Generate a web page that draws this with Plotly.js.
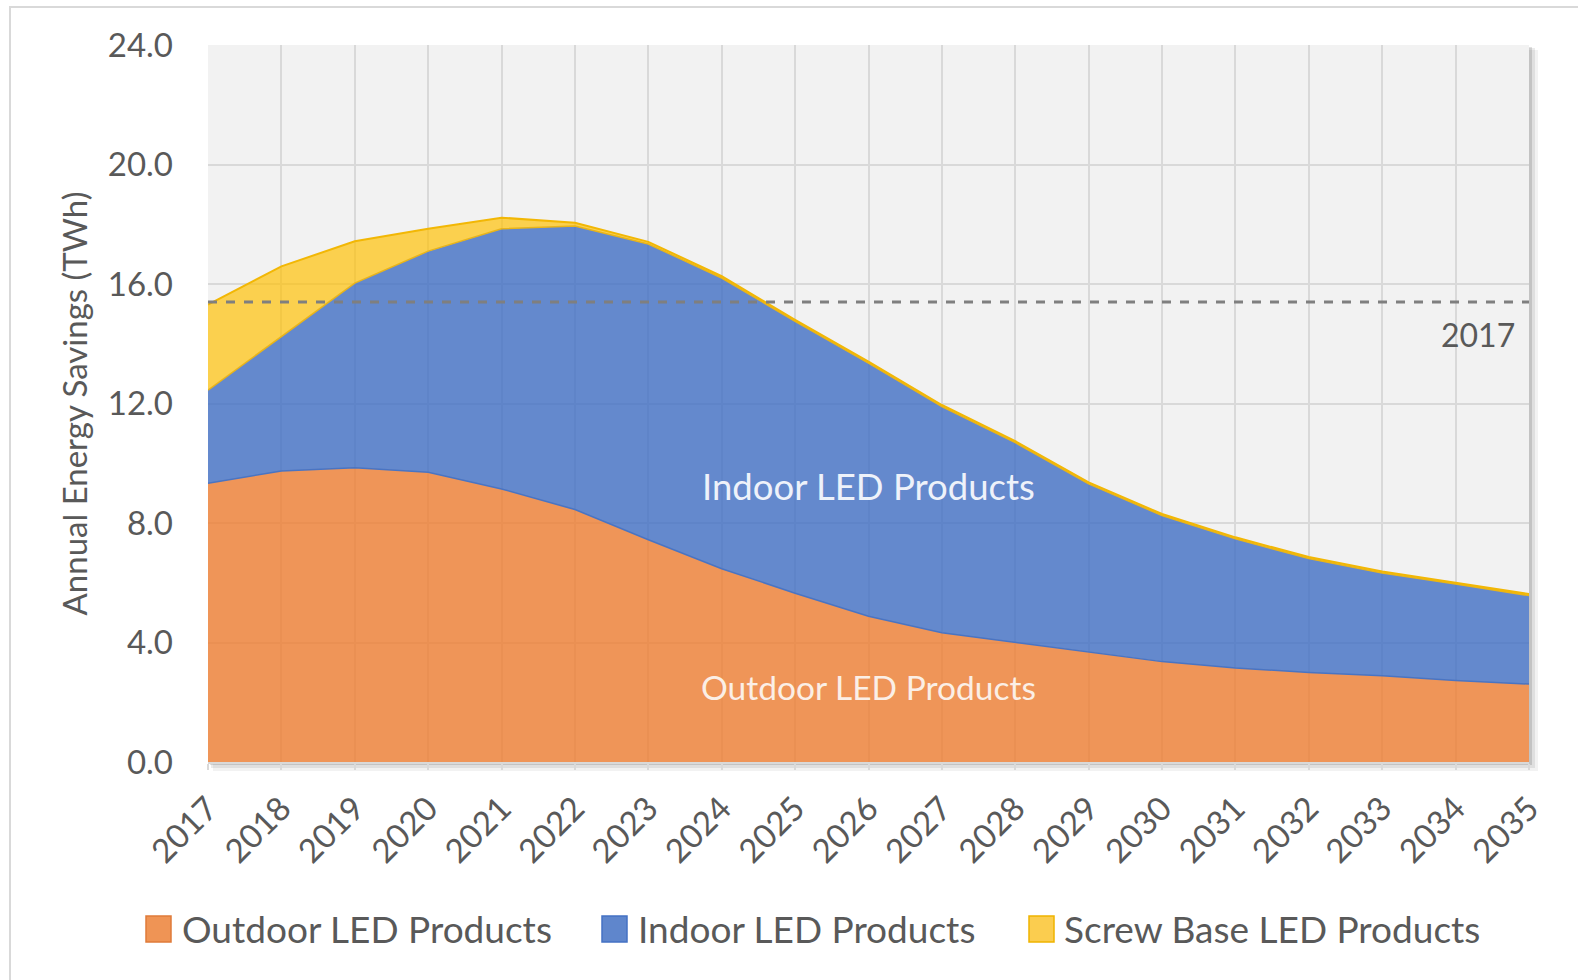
<!DOCTYPE html>
<html>
<head>
<meta charset="utf-8">
<script src="https://cdn.plot.ly/plotly-3.0.1.min.js"></script>
<style>
html,body{margin:0;padding:0;background:#fff;}
#chart{width:1578px;height:980px;}
</style>
</head>
<body>
<div id="chart"></div>
<script>
// ---- data (TWh) ----
var years = [2017,2018,2019,2020,2021,2022,2023,2024,2025,2026,2027,2028,2029,2030,2031,2032,2033,2034,2035];
var outdoor = [9.33,9.74,9.85,9.70,9.14,8.45,7.44,6.47,5.65,4.88,4.33,4.00,3.67,3.36,3.15,3.00,2.89,2.73,2.61];
var indoor  = [3.12,4.50,6.18,7.40,8.71,9.49,9.90,9.73,9.10,8.47,7.57,6.69,5.64,4.89,4.32,3.81,3.44,3.23,2.96];
var screwBase = [2.86,2.35,1.40,0.75,0.37,0.11,0.07,0.06,0.05,0.05,0.05,0.05,0.05,0.05,0.05,0.05,0.05,0.05,0.05];
var seriesNames = ['Outdoor LED Products','Indoor LED Products','Screw Base LED Products'];
var baseline2017 = 15.4;
var baselineLabel = '2017';
var yTicks = [0,4,8,12,16,20,24];

var FONT = 'Lato, "Open Sans", sans-serif';
var GREY = '#595959';

var traces = [
  {x: years, y: outdoor, name: seriesNames[0], type: 'scatter', mode: 'lines',
   stackgroup: 'one', fillcolor: 'rgba(237,125,49,0.80)',
   line: {color: '#4a74c2', width: 1.5}, showlegend: false},
  {x: years, y: indoor, name: seriesNames[1], type: 'scatter', mode: 'lines',
   stackgroup: 'one', fillcolor: 'rgba(68,114,196,0.82)',
   line: {color: '#e9b419', width: 1.5}, showlegend: false},
  {x: years, y: screwBase, name: seriesNames[2], type: 'scatter', mode: 'lines',
   stackgroup: 'one', fillcolor: 'rgba(255,192,0,0.68)',
   line: {color: '#f2b705', width: 2}, showlegend: false}
];

// pixel helpers for paper coordinates
var L = 208, R = 1529, T = 45, B = 762;
var W = R - L, H = B - T;
function px(x){ return (x - L) / W; }
function py(y){ return (B - y) / H; }

var shapes = [
  // outer light frame
  {type:'rect', xref:'paper', yref:'paper', x0:px(10), x1:px(1640), y0:py(1040), y1:py(7),
   line:{color:'#d9d9d9', width:2}, fillcolor:'rgba(0,0,0,0)', layer:'below'},
  // soft shadow of plot area
  {type:'rect', xref:'paper', yref:'paper', x0:px(L+5), x1:px(R+9), y0:py(B+9), y1:py(T+5),
   line:{width:0}, fillcolor:'rgba(0,0,0,0.05)', layer:'below'},
  {type:'rect', xref:'paper', yref:'paper', x0:px(L+3), x1:px(R+6), y0:py(B+6), y1:py(T+3),
   line:{width:0}, fillcolor:'rgba(0,0,0,0.08)', layer:'below'},
  {type:'rect', xref:'paper', yref:'paper', x0:px(L+2), x1:px(R+3), y0:py(B+3), y1:py(T+2),
   line:{width:0}, fillcolor:'rgba(0,0,0,0.12)', layer:'below'},
  // plot background
  {type:'rect', xref:'paper', yref:'paper', x0:0, x1:1, y0:0, y1:1,
   line:{width:0}, fillcolor:'#f2f2f2', layer:'below'},
  // 2017 reference dashed line
  {type:'line', xref:'paper', yref:'y', x0:0, x1:1, y0:baseline2017, y1:baseline2017,
   line:{color:'#7f7f7f', width:3, dash:'dash'}, layer:'above'}
];

// manual legend squares
var legendColors = [['#ef9455','#e07b3a'],['#5f86cc','#4472c4'],['#fbcd4f','#f0b400']];
var legendX = [146, 602, 1029];
var legendTextX = [180, 636, 1062];
for (var i = 0; i < 3; i++) {
  shapes.push({type:'rect', xref:'paper', yref:'paper',
    x0:px(legendX[i]), x1:px(legendX[i]+25), y0:py(942), y1:py(916),
    fillcolor:legendColors[i][0], line:{color:legendColors[i][1], width:1.5}});
}

var annotations = [
  {xref:'x', yref:'y', x:2026, y:9.24, text:'Indoor LED Products', showarrow:false,
   font:{family:FONT, size:36.5, color:'#eef2fa'}},
  {xref:'x', yref:'y', x:2026, y:2.51, text:'Outdoor LED Products', showarrow:false,
   font:{family:FONT, size:33.5, color:'#fbefe6'}},
  {xref:'x', yref:'y', x:2034.83, y:14.3, text:baselineLabel, showarrow:false,
   xanchor:'right', yanchor:'middle', font:{family:FONT, size:32, color:GREY}}
];
for (var j = 0; j < 3; j++) {
  annotations.push({xref:'paper', yref:'paper', x:px(legendTextX[j]), y:py(929),
    xanchor:'left', yanchor:'middle', text:seriesNames[j], showarrow:false,
    font:{family:FONT, size:37, color:GREY}});
}

var layout = {
  width: 1578, height: 980,
  margin: {l: L, r: 1578 - R, t: T, b: 980 - B, pad: 0},
  paper_bgcolor: '#ffffff',
  plot_bgcolor: 'rgba(0,0,0,0)',
  font: {family: FONT, color: GREY},
  showlegend: false,
  xaxis: {
    type: 'linear', range: [2017, 2035], tickmode: 'array', tickvals: years,
    ticktext: years.map(String), tickangle: -45,
    tickfont: {family: FONT, size: 33, color: GREY},
    showgrid: true, gridcolor: '#d9d9d9', gridwidth: 2,
    showline: true, linecolor: '#d9d9d9', linewidth: 2,
    ticks: 'outside', ticklen: 6, tickcolor: '#d9d9d9', tickwidth: 2,
    zeroline: false, fixedrange: true, ticklabelstandoff: 6
  },
  yaxis: {
    range: [0, 24], tickmode: 'array', tickvals: yTicks,
    ticktext: yTicks.map(function(v){ return v.toFixed(1); }),
    tickfont: {family: FONT, size: 33, color: GREY},
    showgrid: true, gridcolor: '#d9d9d9', gridwidth: 2,
    showline: false, zeroline: false, ticks: '',
    ticklabelstandoff: 34, fixedrange: true,
    title: {text: 'Annual Energy Savings (TWh)', standoff: 10,
            font: {family: FONT, size: 33, color: GREY}}
  },
  shapes: shapes,
  annotations: annotations
};

Plotly.newPlot('chart', traces, layout, {displayModeBar: false, staticPlot: true});
</script>
</body>
</html>
